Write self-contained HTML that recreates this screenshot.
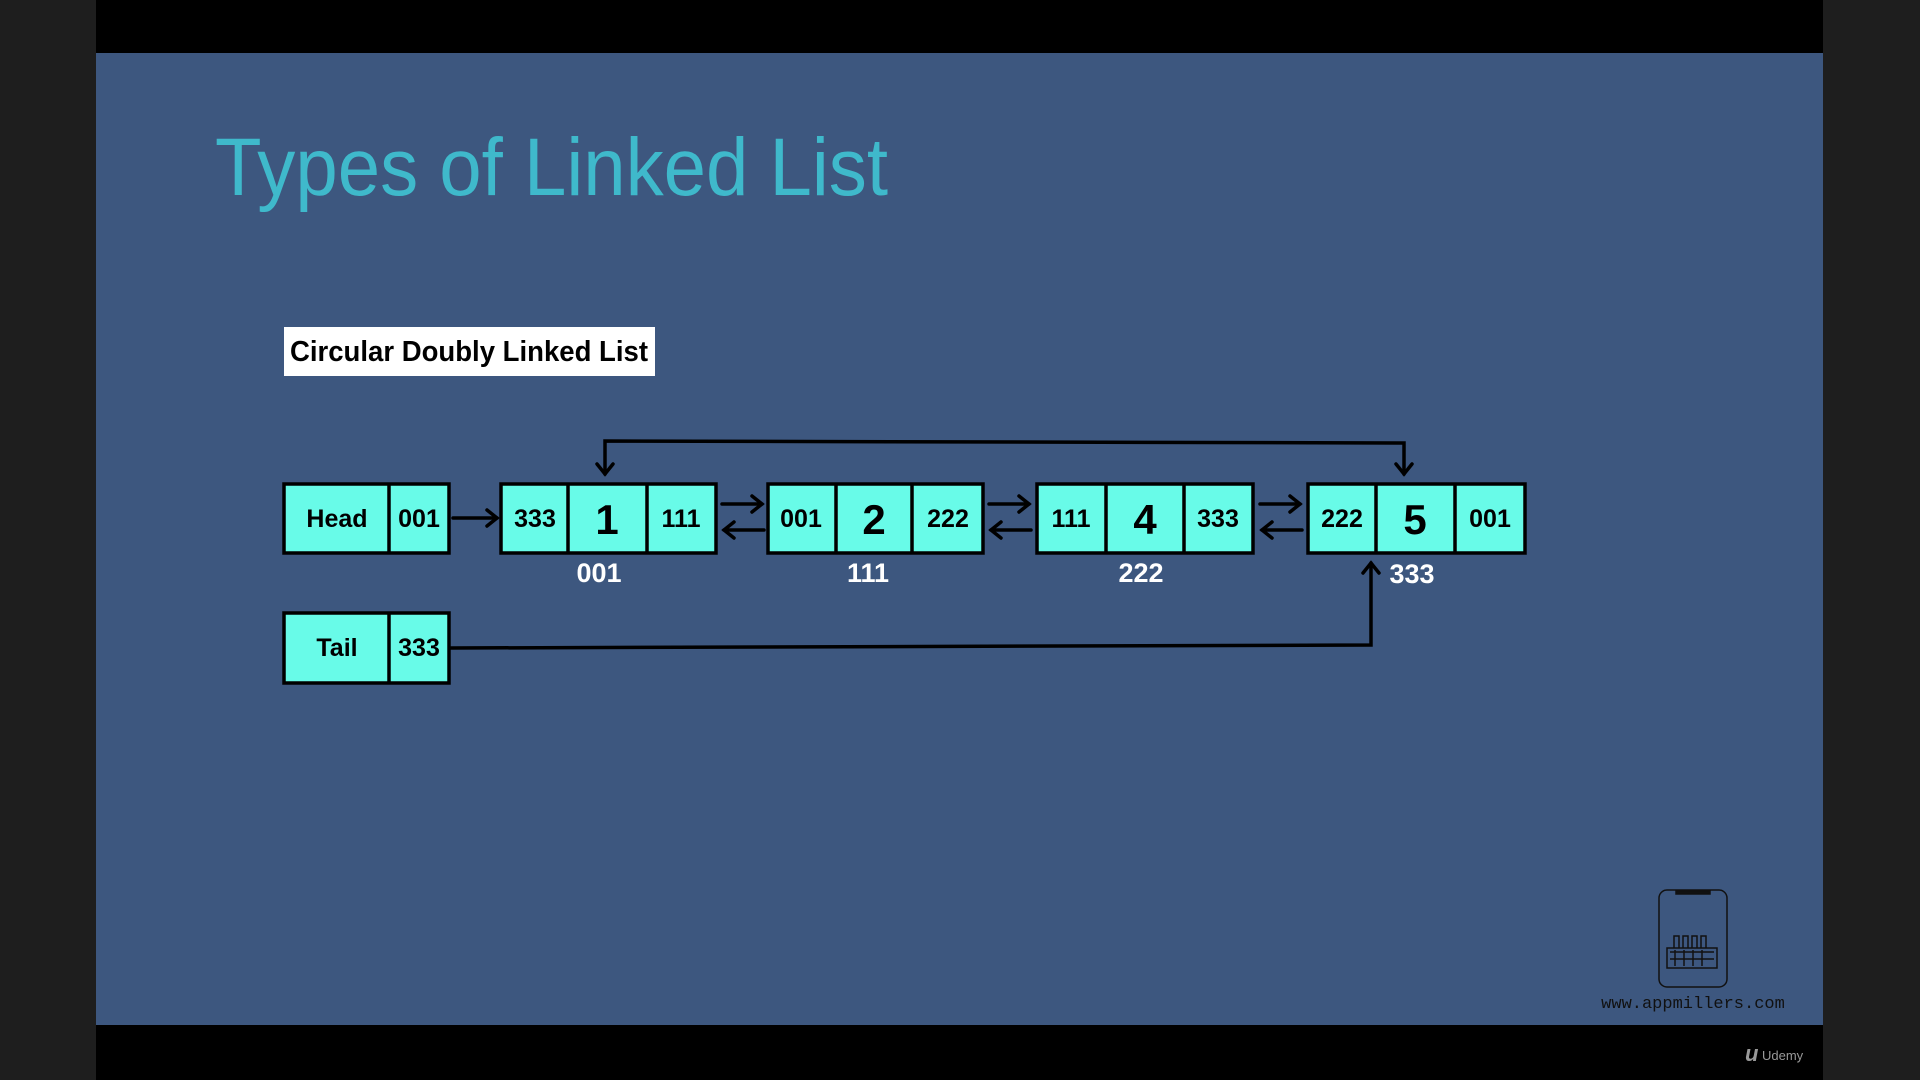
<!DOCTYPE html>
<html><head><meta charset="utf-8"><style>
html,body{margin:0;padding:0;background:#1e1e1e;}
svg{display:block}
</style></head><body>
<svg width="1920" height="1080" viewBox="0 0 1920 1080" xmlns="http://www.w3.org/2000/svg" font-family="Liberation Sans, sans-serif">
<rect x="0" y="0" width="1920" height="1080" fill="#1e1e1e"/>
<rect x="96" y="0" width="1727" height="53" fill="#000"/>
<rect x="96" y="1025" width="1727" height="55" fill="#000"/>
<rect x="96" y="53" width="1727" height="972" fill="#3d577f"/>
<text x="215" y="195" font-size="82" fill="#3fb9cb" textLength="673" lengthAdjust="spacingAndGlyphs">Types of Linked List</text>
<rect x="284" y="327" width="371" height="49" fill="#fff"/>
<text x="290" y="361" font-size="29" font-weight="bold" fill="#000" textLength="358" lengthAdjust="spacingAndGlyphs">Circular Doubly Linked List</text>
<g stroke="#000" stroke-width="3.5" fill="#68fbe8">
<rect x="284" y="484" width="165" height="69"/><line x1="389" y1="484" x2="389" y2="553"/>
<rect x="284" y="613" width="165" height="70"/><line x1="389" y1="613" x2="389" y2="683"/>
<rect x="501" y="484" width="215" height="69"/><line x1="568" y1="484" x2="568" y2="553"/><line x1="647" y1="484" x2="647" y2="553"/>
<rect x="768" y="484" width="215" height="69"/><line x1="836" y1="484" x2="836" y2="553"/><line x1="912" y1="484" x2="912" y2="553"/>
<rect x="1037" y="484" width="216" height="69"/><line x1="1106" y1="484" x2="1106" y2="553"/><line x1="1184" y1="484" x2="1184" y2="553"/>
<rect x="1308" y="484" width="217" height="69"/><line x1="1376" y1="484" x2="1376" y2="553"/><line x1="1455" y1="484" x2="1455" y2="553"/>
</g>
<g font-weight="bold" fill="#000" text-anchor="middle" font-size="25">
<text x="337" y="527">Head</text><text x="419" y="527">001</text>
<text x="337" y="656">Tail</text><text x="419" y="656">333</text>
<text x="535" y="527">333</text><text x="681" y="527">111</text>
<text x="801" y="527">001</text><text x="948" y="527">222</text>
<text x="1071" y="527">111</text><text x="1218" y="527">333</text>
<text x="1342" y="527">222</text><text x="1490" y="527">001</text>
<g font-size="42"><text x="607" y="534">1</text><text x="874" y="534">2</text><text x="1145" y="534">4</text><text x="1415" y="534">5</text></g>
</g>
<g font-weight="bold" fill="#fff" text-anchor="middle" font-size="27">
<text x="599" y="582">001</text><text x="868" y="582">111</text><text x="1141" y="582">222</text><text x="1412" y="583">333</text>
</g>
<g stroke="#000" stroke-width="3.5" fill="none" stroke-linecap="round">
<polyline points="605,474 605,441 1404,443 1404,474"/>
<polyline points="597,464 605,474 613,464"/><polyline points="1396,464 1404,474 1412,464"/>
<polyline points="451,648 1371,645 1371,563"/><polyline points="1363,573 1371,563 1379,573"/>
<line x1="453" y1="518" x2="497" y2="518"/><polyline points="487,510 497,518 487,526"/>
<line x1="722" y1="504" x2="762" y2="504"/><polyline points="752,496 762,504 752,512"/>
<line x1="724" y1="530" x2="764" y2="530"/><polyline points="734,522 724,530 734,538"/>
<line x1="989" y1="504" x2="1029" y2="504"/><polyline points="1019,496 1029,504 1019,512"/>
<line x1="991" y1="530" x2="1031" y2="530"/><polyline points="1001,522 991,530 1001,538"/>
<line x1="1260" y1="504" x2="1300" y2="504"/><polyline points="1290,496 1300,504 1290,512"/>
<line x1="1262" y1="530" x2="1302" y2="530"/><polyline points="1272,522 1262,530 1272,538"/>
</g>
<g stroke="#111" fill="none" stroke-width="1.5">
<rect x="1659" y="890" width="68" height="97" rx="8"/>
<rect x="1676" y="891" width="34" height="3" fill="#111"/>
<rect x="1667" y="948" width="50" height="20"/>
<path d="M1674 948v-12h5v12M1683 948v-12h5v12M1692 948v-12h5v12M1701 948v-12h5v12"/>
<path d="M1670 952h44M1670 959h44M1675 950v16M1684 950v16M1693 950v16M1702 950v16"/>
</g>
<text x="1693" y="1008" font-family="Liberation Mono, monospace" font-size="17" fill="#111" text-anchor="middle">www.appmillers.com</text>
<text x="1745" y="1061" font-size="22" font-style="italic" font-weight="bold" fill="#999">u</text>
<text x="1762" y="1060" font-size="13" fill="#999">Udemy</text>
</svg>
</body></html>
